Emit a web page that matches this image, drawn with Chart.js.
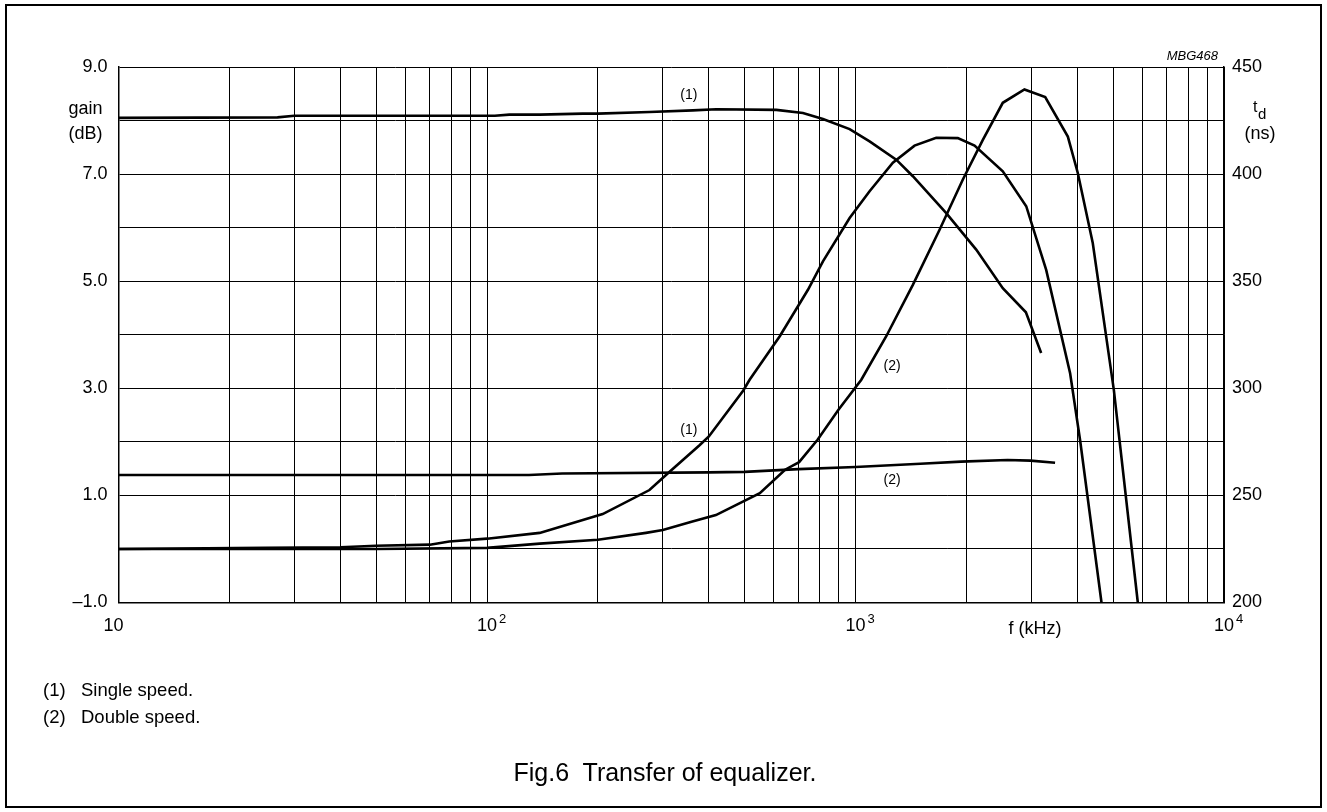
<!DOCTYPE html>
<html>
<head>
<meta charset="utf-8">
<script src="https://cdn.jsdelivr.net/npm/chart.js@4.4.1/dist/chart.umd.min.js"></script>
<style>
  body { margin: 0; background: #fff; }
  #wrap { position: relative; width: 1327px; height: 812px; font-family: "Liberation Sans", Arial, sans-serif; color: #000; }
  #frame { position: absolute; left: 5px; top: 4px; width: 1317px; height: 804px; border: 2px solid #000; box-sizing: border-box; }
  #chart { position: absolute; left: 0; top: 0; }
  .note { position: absolute; font-size: 18.5px; line-height: 18px; white-space: pre; }
  #caption { position: absolute; left: 0; width: 1330px; top: 760px; text-align: center; font-size: 25px; line-height: 25px; white-space: pre; }
</style>
</head>
<body>
<div id="wrap">
  <div id="frame"></div>
  <canvas id="chart" width="1327" height="812"></canvas>
  <div class="note" style="left:43px; top:681px;">(1)</div>
  <div class="note" style="left:81px; top:681px;">Single speed.</div>
  <div class="note" style="left:43px; top:708px;">(2)</div>
  <div class="note" style="left:81px; top:708px;">Double speed.</div>
  <div id="caption">Fig.6  Transfer of equalizer.</div>
</div>
<script>
// gain curves (dB, left axis)
var gainSingleFreq = [10, 27, 30, 105, 115, 139, 182, 200, 276, 362, 419, 610, 720, 816, 964, 1092, 1290, 1431, 1763, 2126, 2510, 2900, 3190];
var gainSingleDb = [8.05, 8.06, 8.09, 8.09, 8.11, 8.11, 8.13, 8.13, 8.16, 8.19, 8.21, 8.20, 8.14, 8.03, 7.84, 7.61, 7.27, 6.96, 6.27, 5.59, 4.87, 4.42, 3.66];
var gainDoubleFreq = [10, 130, 160, 400, 500, 700, 1000, 1500, 1935, 2585, 2985, 3480];
var gainDoubleDb = [1.38, 1.38, 1.41, 1.43, 1.44, 1.49, 1.53, 1.59, 1.63, 1.66, 1.65, 1.61];

// group delay curves (ns, right axis)
var delaySingleFreq = [10, 25, 40, 50, 70, 79, 100, 139, 206, 276, 313, 378, 400, 496, 516, 623, 743, 816, 964, 1092, 1263, 1446, 1656, 1895, 2104, 2510, 2906, 3292, 3823, 4071, 4651];
var delaySingleNs = [225, 225.5, 225.8, 226.5, 227, 228.5, 229.8, 232.5, 241.3, 252.5, 261, 273.5, 277.5, 299, 304, 324.3, 346, 359.3, 379.5, 392, 405.3, 413.3, 417, 416.8, 413.3, 401.3, 385, 355.3, 307, 275.5, 200];
var delayDoubleFreq = [10, 50, 100, 139, 200, 270, 300, 361, 418, 550, 644, 703, 789, 899, 1037, 1212, 1431, 1691, 1956, 2216, 2510, 2874, 3272, 3769, 4011, 4404, 5024, 5836];
var delayDoubleNs = [225, 225, 225.5, 227.5, 229.3, 232.5, 233.8, 237.8, 240.8, 251, 262, 265.5, 276, 290, 304, 324.3, 348.3, 374, 397.5, 416, 433.3, 439.5, 436, 417.5, 400.5, 367.8, 299.3, 200];

// axes
var decades = [10, 100, 1000, 10000];
var decadeExp = ['', '2', '3', '4'];
var gainTicks = [-1, 1, 3, 5, 7, 9];
var delayTicks = [200, 250, 300, 350, 400, 450];

// curve markers: [text, freq, dB]
var curveLabels = [
    ['(1)', 353, 8.48],
    ['(1)', 353, 2.22],
    ['(2)', 1257, 3.41],
    ['(2)', 1257, 1.29]
];

var FONT = '"Liberation Sans", Arial, sans-serif';

function points(xs, ys) {
    return xs.map(function(x, i) { return {x: x, y: ys[i]}; });
}

function curve(xs, ys, axis) {
    return {
        data: points(xs, ys),
        yAxisID: axis,
        borderColor: '#000',
        borderWidth: 2.6,
        pointRadius: 0,
        tension: 0,
        fill: false
    };
}

var figText = {
    id: 'figText',
    afterDraw: function(chart) {
        var ctx = chart.ctx;
        var xs = chart.scales.x;
        var ys = chart.scales.y;
        var a = chart.chartArea;
        ctx.save();
        ctx.fillStyle = '#000';

        // decade labels with exponents
        decades.forEach(function(d, i) {
            var px = xs.getPixelForValue(d);
            if (i === 0) px -= 5;
            ctx.font = '18px ' + FONT;
            ctx.textAlign = 'center';
            ctx.textBaseline = 'middle';
            ctx.fillText('10', px, a.bottom + 24);
            if (decadeExp[i]) {
                ctx.font = '13px ' + FONT;
                ctx.textAlign = 'left';
                ctx.fillText(decadeExp[i], px + 12, a.bottom + 17);
            }
        });

        ctx.font = '18px ' + FONT;
        ctx.textAlign = 'center';
        ctx.textBaseline = 'middle';
        ctx.fillText('f (kHz)', 1035, a.bottom + 27);

        // axis titles
        ctx.fillText('gain', a.left - 33, 109);
        ctx.fillText('(dB)', a.left - 33, 134);
        ctx.fillText('(ns)', a.right + 36, 134);
        ctx.textAlign = 'left';
        ctx.textBaseline = 'alphabetic';
        ctx.font = '16px ' + FONT;
        ctx.fillText('t', a.right + 29, 112);
        ctx.font = '15px ' + FONT;
        ctx.fillText('d', a.right + 34, 119);

        ctx.font = 'italic 13px ' + FONT;
        ctx.textAlign = 'right';
        ctx.textBaseline = 'middle';
        ctx.fillText('MBG468', a.right - 6, a.top - 11);

        ctx.font = '14px ' + FONT;
        ctx.textAlign = 'center';
        curveLabels.forEach(function(l) {
            ctx.fillText(l[0], xs.getPixelForValue(l[1]), ys.getPixelForValue(l[2]));
        });
        ctx.restore();
    }
};

var chartCtx = document.getElementById('chart').getContext('2d');
var eqChart = new Chart(chartCtx, {
    type: 'line',
    data: {
        datasets: [
            curve(gainSingleFreq, gainSingleDb, 'y'),
            curve(gainDoubleFreq, gainDoubleDb, 'y'),
            curve(delaySingleFreq, delaySingleNs, 'y2'),
            curve(delayDoubleFreq, delayDoubleNs, 'y2')
        ]
    },
    options: {
        responsive: false,
        animation: false,
        events: [],
        plugins: {
            legend: { display: false },
            tooltip: { enabled: false }
        },
        layout: {
            padding: { left: 0, right: 0, top: 67, bottom: 169.5 }
        },
        scales: {
            x: {
                type: 'logarithmic',
                min: 10,
                max: 10000,
                afterBuildTicks: function(scale) {
                    var t = [];
                    decades.forEach(function(d) {
                        for (var m = 1; m < 10; m++) {
                            if (d * m <= 10000) t.push({value: d * m});
                        }
                    });
                    scale.ticks = t;
                },
                afterFit: function(scale) { scale.height = 40; },
                ticks: { display: false },
                grid: { color: '#000', lineWidth: 1, drawTicks: false },
                border: { color: '#000', width: 1.5 }
            },
            y: {
                position: 'left',
                min: -1,
                max: 9,
                afterFit: function(scale) { scale.width = 118.5; },
                ticks: {
                    stepSize: 1,
                    autoSkip: false,
                    padding: 11,
                    color: '#000',
                    font: { family: FONT, size: 18 },
                    callback: function(v) {
                        if (gainTicks.indexOf(v) < 0) return '';
                        return (v < 0 ? '\u2013' : '') + Math.abs(v).toFixed(1);
                    }
                },
                grid: { color: '#000', lineWidth: 1, drawTicks: false },
                border: { color: '#000', width: 1.5 }
            },
            y2: {
                position: 'right',
                min: 200,
                max: 450,
                afterFit: function(scale) { scale.width = 103; },
                ticks: {
                    stepSize: 50,
                    autoSkip: false,
                    padding: 8,
                    color: '#000',
                    font: { family: FONT, size: 18 },
                    callback: function(v) {
                        return delayTicks.indexOf(v) < 0 ? '' : String(v);
                    }
                },
                grid: { display: false, drawTicks: false },
                border: { color: '#000', width: 1.5 }
            }
        }
    },
    plugins: [figText]
});
</script>
</body>
</html>
